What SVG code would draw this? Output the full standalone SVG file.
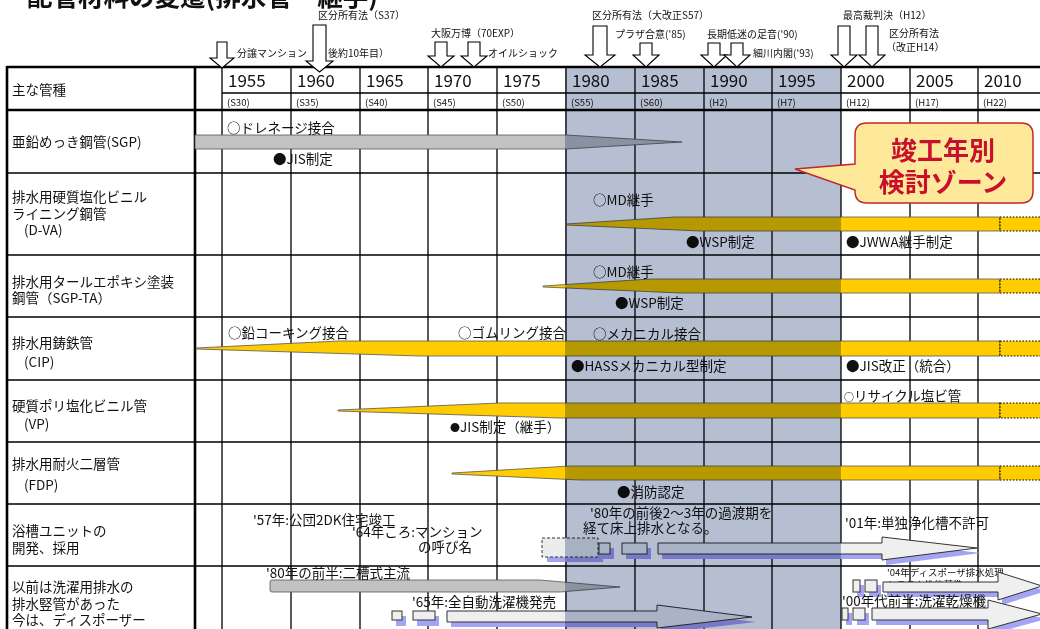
<svg xmlns="http://www.w3.org/2000/svg" width="1040" height="629" viewBox="0 0 1040 629">
<style>
text{font-family:"Noto Sans CJK JP","Noto Sans",sans-serif;fill:#111}
.ttl{font-size:25.5px;font-weight:bold}
.lab{font-size:13.5px}
.sm{font-size:10px}
.xs{font-size:9.5px}
.yr{font-size:17px}
.era{font-size:9.5px}
.g{stroke:#000;stroke-width:1.3;fill:none}
.gt{stroke:#000;stroke-width:2.6;fill:none}
.yb{fill:#ffcc00;stroke:#555;stroke-width:.8}
.dot{fill:#ffcc00;stroke:#000;stroke-width:1.2;stroke-dasharray:1.6 1.6}
.gb{fill:#c2c2c2;stroke:#555;stroke-width:.8}
.hb{fill:#efefef;stroke:#333;stroke-width:1}
.sh{fill:#a4a4f4}
.ev{fill:#fff;stroke:#000;stroke-width:1.1}
.co{font-size:26px;font-weight:bold;fill:#c8102e}
</style>
<rect width="1040" height="629" fill="#fff"/>
<text class="ttl" x="27" y="6">配管材料の変遷(排水管・継手)</text>

<g id="grid">
<path class="g" d="M222,93H1040 M7,173H1040 M7,255H1040 M7,317H1040 M7,380H1040 M7,442H1040 M7,504H1040 M7,566H1040"/>
<path class="g" d="M222,67V629 M291,67V629 M360,67V629 M428,67V629 M497,67V629 M566,67V629 M635,67V629 M704,67V629 M772,67V629 M841,67V629 M910,67V629 M978,67V629"/>
<path class="gt" d="M7,67H1040 M7,110H1040 M7,66V629 M195,66V629"/>
</g>

<g id="header">
<text class="lab" x="12" y="95">主な管種</text>
<text class="yr" x="228" y="87">1955</text><text class="era" x="227" y="106">(S30)</text>
<text class="yr" x="297" y="87">1960</text><text class="era" x="296" y="106">(S35)</text>
<text class="yr" x="366" y="87">1965</text><text class="era" x="365" y="106">(S40)</text>
<text class="yr" x="434" y="87">1970</text><text class="era" x="433" y="106">(S45)</text>
<text class="yr" x="503" y="87">1975</text><text class="era" x="502" y="106">(S50)</text>
<text class="yr" x="572" y="87">1980</text><text class="era" x="571" y="106">(S55)</text>
<text class="yr" x="641" y="87">1985</text><text class="era" x="640" y="106">(S60)</text>
<text class="yr" x="710" y="87">1990</text><text class="era" x="709" y="106">(H2)</text>
<text class="yr" x="778" y="87">1995</text><text class="era" x="777" y="106">(H7)</text>
<text class="yr" x="847" y="87">2000</text><text class="era" x="846" y="106">(H12)</text>
<text class="yr" x="916" y="87">2005</text><text class="era" x="915" y="106">(H17)</text>
<text class="yr" x="984" y="87">2010</text><text class="era" x="983" y="106">(H22)</text>
</g>

<g id="row-sgp">
<text class="lab" x="12" y="147">亜鉛めっき鋼管(SGP)</text>
<path class="gb" d="M195,135H566L682,142L566,149H195Z"/>
<text class="lab" x="227" y="133">○ドレネージ接合</text>
<text class="lab" x="273" y="164">●JIS制定</text>
</g>

<g id="row-dva">
<text class="lab" x="12" y="202">排水用硬質塩化ビニル</text>
<text class="lab" x="12" y="219">ライニング鋼管</text>
<text class="lab" x="24" y="235">(D-VA)</text>
<path class="yb" d="M566,224L675,217H1000V231H700L566,225Z"/>
<rect class="dot" x="1000" y="217" width="45" height="14"/>
<text class="lab" x="593" y="205">○MD継手</text>
<text class="lab" x="686" y="247">●WSP制定</text>
<text class="lab" x="846" y="247">●JWWA継手制定</text>
</g>

<g id="row-sgpta">
<text class="lab" x="12" y="287">排水用タールエポキシ塗装</text>
<text class="lab" x="12" y="303">鋼管（SGP-TA）</text>
<path class="yb" d="M543,286L650,279H1000V293H680L543,287Z"/>
<rect class="dot" x="1000" y="279" width="45" height="14"/>
<text class="lab" x="593" y="277">○MD継手</text>
<text class="lab" x="615" y="308">●WSP制定</text>
</g>

<g id="row-cip">
<text class="lab" x="12" y="348">排水用鋳鉄管</text>
<text class="lab" x="24" y="367">(CIP)</text>
<path class="yb" d="M196,348L339,341H1000V356H420L196,349Z"/>
<rect class="dot" x="1000" y="341" width="45" height="15"/>
<text class="lab" x="228" y="338">○鉛コーキング接合</text>
<text class="lab" x="458" y="338">○ゴムリング接合</text>
<text class="lab" x="593" y="339">○メカニカル接合</text>
<text class="lab" x="571" y="371">●HASSメカニカル型制定</text>
<text class="lab" x="846" y="371">●JIS改正（統合）</text>
</g>

<g id="row-vp">
<text class="lab" x="12" y="411">硬質ポリ塩化ビニル管</text>
<text class="lab" x="24" y="429">(VP)</text>
<path class="yb" d="M338,410L500,403H1000V418H560L338,411Z"/>
<rect class="dot" x="1000" y="403" width="45" height="15"/>
<text class="lab" x="844" y="401"><tspan font-size="10">○</tspan>リサイクル塩ビ管</text>
<text class="lab" x="450" y="432"><tspan font-size="10">●</tspan>JIS制定（継手）</text>
</g>

<g id="row-fdp">
<text class="lab" x="12" y="469">排水用耐火二層管</text>
<text class="lab" x="24" y="490">(FDP)</text>
<path class="yb" d="M452,473L570,466H1000V480H580L452,474Z"/>
<rect class="dot" x="1000" y="466" width="45" height="14"/>
<text class="lab" x="617" y="497">●消防認定</text>
</g>

<g id="row-bath">
<text class="lab" x="12" y="536">浴槽ユニットの</text>
<text class="lab" x="12" y="553">開発、採用</text>
<text class="lab" x="253" y="525">'57年:公団2DK住宅竣工</text>
<text class="lab" x="352" y="537">'64年ころ:マンション</text>
<text class="lab" x="418" y="552">の呼び名</text>
<rect class="sh" x="547" y="543" width="56" height="19"/>
<rect x="542" y="538" width="56" height="19" fill="#ececec" stroke="#333" stroke-width="1" stroke-dasharray="3 2"/>
<rect class="sh" x="603" y="548" width="11" height="11"/>
<rect class="hb" x="599" y="543" width="11" height="11"/>
<rect class="sh" x="626" y="548" width="25" height="11"/>
<rect class="hb" x="622" y="543" width="25" height="11"/>
<path class="sh" d="M662,548H886V542L981,553L886,565V559H662Z"/>
<path class="hb" d="M658,543H882V537L977,548L882,560V554H658Z"/>
<text class="lab" x="590" y="518">'80年の前後2～3年の過渡期を</text>
<text class="lab" x="583" y="533">経て床上排水となる。</text>
<text class="lab" x="845" y="528" font-size="14">'01年:単独浄化槽不許可</text>
</g>

<g id="row-wash">
<text class="lab" x="12" y="592">以前は洗濯用排水の</text>
<text class="lab" x="12" y="609">排水竪管があった</text>
<text class="lab" x="12" y="625">今は、ディスポーザー</text>
<path class="gb" d="M272,580H540L620,587L560,592H272Q270,592 270,590V582Q270,580 272,580Z"/>
<text class="lab" x="266" y="578">'80年の前半:二槽式主流</text>
<text class="lab" x="412" y="607">'65年:全自動洗濯機発売</text>
<rect class="sh" x="396" y="616" width="10" height="10"/>
<rect class="hb" x="392" y="611" width="10" height="9"/>
<rect class="sh" x="417" y="616" width="22" height="10"/>
<rect class="hb" x="413" y="611" width="22" height="9"/>
<path class="sh" d="M451,616H661V610L756,622L661,633V627H451Z"/>
<path class="hb" d="M447,611H657V605L752,617L657,628V622H447Z"/>
<text class="xs" x="887" y="576">'04年ディスポーザ排水処理</text>
<text class="xs" x="887" y="588">システム性能基準</text>
<rect class="sh" x="857" y="585" width="7" height="12"/>
<rect class="hb" x="853" y="580" width="7" height="12"/>
<rect class="sh" x="869" y="585" width="12" height="12"/>
<rect class="hb" x="865" y="580" width="12" height="12"/>
<path class="sh" d="M887,587H1002V577L1046,591L1002,605V597H887Z"/>
<path class="hb" d="M883,582H998V572L1042,586L998,600V592H883Z"/>
<text class="lab" x="842" y="606">'00年代前半:洗濯乾燥機</text>
<rect class="sh" x="846" y="613" width="6" height="12"/>
<rect class="hb" x="842" y="608" width="6" height="12"/>
<rect class="sh" x="857" y="613" width="12" height="12"/>
<rect class="hb" x="853" y="608" width="12" height="12"/>
<path class="sh" d="M876,613H992V605L1046,619L992,634V625H876Z"/>
<path class="hb" d="M872,608H988V600L1042,614L988,629V620H872Z"/>
</g>

<rect id="zone" x="565" y="66" width="276" height="563" fill="#b6bfd2" style="mix-blend-mode:multiply"/>

<g id="callout">
<path d="M867,123H1021Q1033,123 1033,135V191Q1033,203 1021,203H867Q855,203 855,191V190L795,169L855,164V135Q855,123 867,123Z" fill="#fee99a" stroke="#c0282d" stroke-width="1.5"/>
<text class="co" x="943" y="160" text-anchor="middle">竣工年別</text>
<text class="co" x="943" y="192" text-anchor="middle">検討ゾーン</text>
</g>

<g id="events">
<text class="sm" x="318" y="19">区分所有法（S37）</text>
<text class="sm" x="237" y="57">分譲マンション（</text>
<text class="sm" x="328" y="57">後約10年目）</text>
<text class="sm" x="431" y="37">大阪万博（70EXP）</text>
<text class="sm" x="488" y="57">オイルショック</text>
<text class="sm" x="592" y="19">区分所有法（大改正S57）</text>
<text class="sm" x="615" y="38">プラザ合意('85)</text>
<text class="sm" x="707" y="38">長期低迷の足音('90)</text>
<text class="sm" x="753" y="57">細川内閣('93)</text>
<text class="sm" x="843" y="19">最高裁判決（H12）</text>
<text class="sm" x="889" y="37">区分所有法</text>
<text class="sm" x="886" y="51">（改正H14）</text>
</g>

<g id="connectors">
<path class="ev" d="M217,42H227V58H234L222,68L210,58H217Z"/>
<path class="ev" d="M313,25H326V61H333L319.5,72L306,61H313Z"/>
<path class="ev" d="M435,42H447V56H454L441,67L428,56H435Z"/>
<path class="ev" d="M468,42H480V56H487L474,67L461,56H468Z"/>
<path class="ev" d="M593,26H607V55H615L600,67L585,55H593Z"/>
<path class="ev" d="M640,43H652V55H659L646,67L633,55H640Z"/>
<path class="ev" d="M708,43H720V55H727L714,67L701,55H708Z"/>
<path class="ev" d="M731,43H743V55H750L737,67L724,55H731Z"/>
<path class="ev" d="M838,26H850V55H857L844,67L831,55H838Z"/>
<path class="ev" d="M866,26H878V55H885L872,67L859,55H866Z"/>
</g>
</svg>
